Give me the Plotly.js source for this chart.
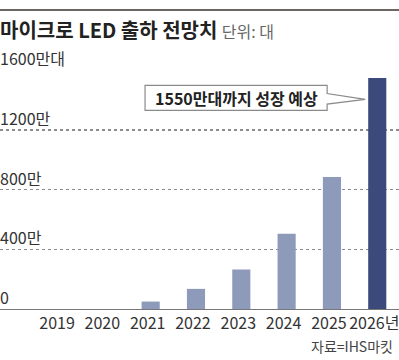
<!DOCTYPE html>
<html>
<head>
<meta charset="utf-8">
<script src="https://cdn.plot.ly/plotly-3.0.1.min.js"></script>
<style>
html,body{margin:0;padding:0;background:#fff;}
#chart{width:399px;height:360px;}
</style>
</head>
<body>
<div id="chart"></div>
<script>
var years = ['2019','2020','2021','2022','2023','2024','2025','2026년'];
var shipments = [0, 0, 50, 135, 265, 505, 885, 1550];
var yTickVals = [0, 400, 800, 1200, 1600];
var yTickText = ['0', '400만', '800만', '1200만', '1600만대'];
var titleText = '마이크로 LED 출하 전망치';
var unitText = '단위: 대';
var calloutText = '1550만대까지 성장 예상';
var sourceText = '자료=IHS마킷';

var FONT = '"Liberation Sans Narrow", "Noto Sans CJK KR", sans-serif';
var lightBar = '#8e9ab9';
var darkBar = '#3c4a7b';
var barColors = years.map(function(y, i){ return i === years.length - 1 ? darkBar : lightBar; });

var trace = {
  type: 'bar',
  x: years,
  y: shipments,
  marker: {color: barColors, line: {width: 0}},
  hoverinfo: 'none'
};

// callout geometry in axis units (category index / value)
var bx0 = 1.876, bx1 = 5.894, tipX = 6.733;
var by0 = 1332, by1 = 1500, pUp = 1445, pLo = 1374, tipY = 1406;
var calloutPath = 'M' + bx0 + ',' + by1 + ' L' + bx1 + ',' + by1 + ' L' + bx1 + ',' + pUp +
  ' L' + tipX + ',' + tipY + ' L' + bx1 + ',' + pLo + ' L' + bx1 + ',' + by0 +
  ' L' + bx0 + ',' + by0 + ' Z';

var yLabelAnns = yTickVals.map(function(v, i){
  return {text: yTickText[i], xref: 'paper', yref: 'y', x: 0, y: v,
    xanchor: 'left', yanchor: 'bottom', xshift: -2, yshift: -2, showarrow: false,
    font: {family: FONT, size: 16, color: '#333'}};
});

var layout = {
  width: 399, height: 360,
  margin: {l: 0, r: 0, t: 70, b: 51, pad: 0},
  paper_bgcolor: '#fff', plot_bgcolor: '#fff',
  showlegend: false,
  bargap: 0.6,
  font: {family: FONT, size: 16, color: '#333'},
  title: {
    text: '<b>' + titleText + '</b> <span style="font-size:16px;color:#666">' + unitText + '</span>',
    x: 0, xanchor: 'left', xref: 'paper',
    y: 0.915, yanchor: 'middle',
    font: {family: FONT, size: 20, color: '#222'}
  },
  xaxis: {
    type: 'category',
    range: [-1.325, 7.48],
    showgrid: false,
    showline: true, linecolor: '#777', linewidth: 1,
    ticks: '', ticklabelshift: -3,
    tickfont: {family: FONT, size: 16, color: '#333'},
    fixedrange: true
  },
  yaxis: {
    range: [0, 1603],
    tickmode: 'array',
    tickvals: yTickVals,
    ticktext: yTickText,
    showticklabels: false,
    showgrid: true, gridcolor: '#8c8c8c', gridwidth: 1.2, griddash: 'dot',
    zeroline: false, showline: false, ticks: '',
    fixedrange: true
  },
  shapes: [
    {type: 'line', xref: 'paper', yref: 'paper', x0: 0, x1: 1,
     ysizemode: 'pixel', yanchor: 1, y0: 60, y1: 60,
     line: {color: '#3d3230', width: 1.5}},
    {type: 'path', xref: 'x', yref: 'y', path: calloutPath, layer: 'above',
     fillcolor: '#fff', line: {color: '#8a8a8a', width: 1.2}}
  ],
  annotations: yLabelAnns.concat([
    {text: '<b>' + calloutText + '</b>', xref: 'x', yref: 'y',
     x: (bx0 + bx1) / 2, y: (by0 + by1) / 2, xanchor: 'center', yanchor: 'middle',
     showarrow: false, font: {family: FONT, size: 16, color: '#222'}},
    {text: sourceText, xref: 'paper', yref: 'paper', x: 0.99, y: -0.155,
     xanchor: 'right', yanchor: 'middle', showarrow: false,
     font: {family: FONT, size: 14, color: '#444'}}
  ])
};

Plotly.newPlot('chart', [trace], layout, {staticPlot: true, displayModeBar: false});
</script>
</body>
</html>
